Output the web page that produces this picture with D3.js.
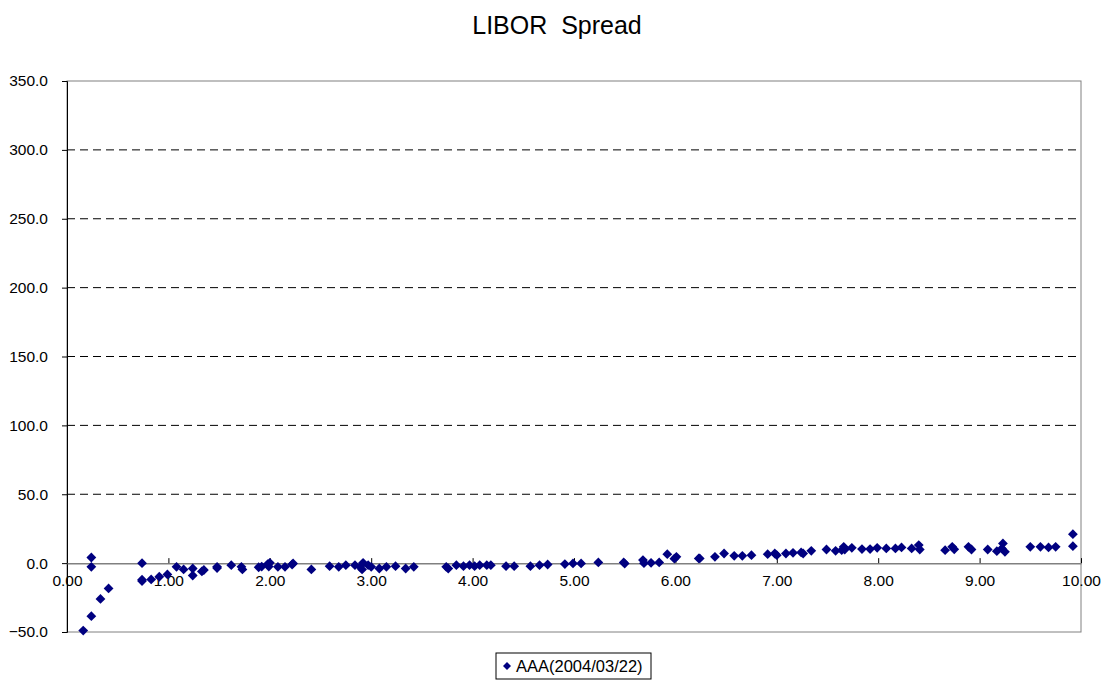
<!DOCTYPE html>
<html>
<head>
<meta charset="utf-8">
<script src="https://cdn.jsdelivr.net/npm/d3@7"></script>
<style>
  body { margin: 0; background: #fff; }
  text { font-family: "Liberation Sans", Arial, sans-serif; fill: #000; }
</style>
</head>
<body>
<div id="chart"></div>
<script>
// maturity (years) and spread (bp)
var maturity = [0.16, 0.24, 0.24, 0.24, 0.33, 0.41, 0.74, 0.74, 0.74, 0.83, 0.91, 0.99,
    1.08, 1.15, 1.24, 1.24, 1.33, 1.35, 1.48, 1.48, 1.62, 1.72, 1.73, 1.89, 1.92, 1.98, 1.99,
    2.00, 2.08, 2.15, 2.22, 2.23, 2.41, 2.59, 2.68, 2.75, 2.84, 2.89, 2.91, 2.92, 2.97,
    3.00, 3.08, 3.15, 3.24, 3.34, 3.42, 3.74, 3.76, 3.84, 3.91, 3.97,
    4.02, 4.07, 4.14, 4.18, 4.33, 4.41, 4.57, 4.66, 4.74, 4.91, 4.99,
    5.07, 5.24, 5.49, 5.50, 5.68, 5.69, 5.76, 5.84, 5.92, 5.99,
    6.01, 6.23, 6.24, 6.39, 6.48, 6.58, 6.66, 6.75, 6.91, 6.98,
    7.00, 7.09, 7.16, 7.24, 7.26, 7.34, 7.49, 7.58, 7.64, 7.66, 7.67, 7.74, 7.84, 7.92, 7.99,
    8.08, 8.17, 8.23, 8.33, 8.40, 8.41, 8.66, 8.73, 8.75, 8.89, 8.92,
    9.08, 9.17, 9.22, 9.23, 9.25, 9.50, 9.60, 9.68, 9.75, 9.92, 9.92];
var spread = [-49, 4.1, -2.7, -38.5, -26, -18.4, 0, -12, -13, -11.8, -9.9, -8.2,
    -2.7, -4.6, -3.9, -9, -6, -5, -2.7, -3.6, -1.5, -2.7, -4.6, -3, -2.5, -0.7, -2.5,
    0.2, -2.7, -2.7, -1, -0.2, -4.6, -2.2, -2.7, -1.5, -1.5, -2.7, -4.6, 0.2, -1.5,
    -2.7, -3.9, -2.7, -2.2, -3.9, -2.7, -2.7, -3.9, -1.5, -2.2, -1.5,
    -2.2, -1.5, -1.5, -1.5, -2.2, -2.2, -2.2, -1.5, -1, -0.7, -0.2,
    -0.2, 0.5, 0.5, -0.3, 2.2, 0, 0.2, 0.5, 6.5, 3.2,
    4.6, 3.4, 3.4, 4.6, 7, 5.3, 5.3, 5.8, 6.5, 7,
    5.8, 7, 7.5, 7.8, 7, 8.9, 9.9, 8.9, 9.4, 11.8, 9.9, 11.1, 10.2, 10.2, 11.1,
    10.7, 10.7, 11.4, 10.7, 13.1, 9.9, 9.4, 11.8, 10, 11.8, 9.9,
    9.9, 8.7, 10.7, 14.3, 8.2, 11.8, 11.8, 11.4, 11.8, 21, 12.3];

var xTicks = [0, 1, 2, 3, 4, 5, 6, 7, 8, 9, 10];
var yTicks = [-50, 0, 50, 100, 150, 200, 250, 300, 350];
var seriesName = "AAA(2004/03/22)";
var title = "LIBOR\u00a0\u00a0Spread";

var w = 1105, h = 682;
var plot = { left: 67, right: 1081, top: 81, bottom: 632 };
var navy = "#000080";

var svg = d3.select("#chart").append("svg")
    .attr("width", w)
    .attr("height", h);

var x = d3.scaleLinear().domain([0, 10]).range([plot.left, plot.right]);
var y = d3.scaleLinear().domain([-50, 350]).range([plot.bottom, plot.top]);

//dashed grid lines, the top one and bottom one are part of the frame
svg.append("g")
    .selectAll("line")
    .data(yTicks.filter(function(d) { return d > 0 && d < 350; }))
    .enter().append("line")
    .attr("x1", plot.left).attr("x2", plot.right)
    .attr("y1", function(d) { return y(d); })
    .attr("y2", function(d) { return y(d); })
    .attr("stroke", "#000")
    .attr("stroke-dasharray", "8,5");

//frame
svg.append("rect")
    .attr("x", plot.left).attr("y", plot.top)
    .attr("width", plot.right - plot.left).attr("height", plot.bottom - plot.top)
    .attr("fill", "none")
    .attr("stroke", "#808080");

//y axis
var yAxis = svg.append("g")
    .attr("transform", "translate(" + plot.left + ",0)")
    .call(d3.axisLeft(y).tickValues(yTicks).tickSize(5).tickPadding(4)
        .tickFormat(d3.format(".1f")));
yAxis.select(".domain").attr("stroke", "#000");
yAxis.selectAll("text").attr("font-size", 15.5).attr("dx", "-10");
yAxis.selectAll("text").text(function(d) { return d < 0 ? "\u221250.0" : d3.format(".1f")(d); });

//x axis crosses at zero
var xAxis = svg.append("g")
    .attr("transform", "translate(0," + y(0) + ")")
    .call(d3.axisBottom(x).tickValues(xTicks).tickSize(0).tickPadding(12)
        .tickFormat(d3.format(".2f")));
xAxis.select(".domain").attr("stroke", "#808080").attr("stroke-width", 1.5);
xAxis.selectAll("text").attr("font-size", 15.5);
xAxis.selectAll(".tick").append("line")
    .attr("y1", 0).attr("y2", -5)
    .attr("stroke", "#000");

//points
var diamond = d3.symbol().type(d3.symbolSquare).size(48);
svg.append("g")
    .selectAll("path")
    .data(d3.range(maturity.length))
    .enter().append("path")
    .attr("d", diamond)
    .attr("fill", navy)
    .attr("transform", function(i) {
        return "translate(" + x(maturity[i]) + "," + y(spread[i]) + ") rotate(45)";
    });

//title
svg.append("text")
    .attr("x", 557).attr("y", 34)
    .attr("text-anchor", "middle")
    .attr("font-size", 25)
    .text(title);

//legend
var lg = svg.append("g").attr("transform", "translate(496,653)");
lg.append("rect")
    .attr("width", 155).attr("height", 26)
    .attr("fill", "#fff")
    .attr("stroke", "#000");
lg.append("path")
    .attr("d", d3.symbol().type(d3.symbolSquare).size(32))
    .attr("fill", navy)
    .attr("transform", "translate(11,13) rotate(45)");
lg.append("text")
    .attr("x", 20).attr("y", 19)
    .attr("font-size", 16.5)
    .text(seriesName);
</script>
</body>
</html>
